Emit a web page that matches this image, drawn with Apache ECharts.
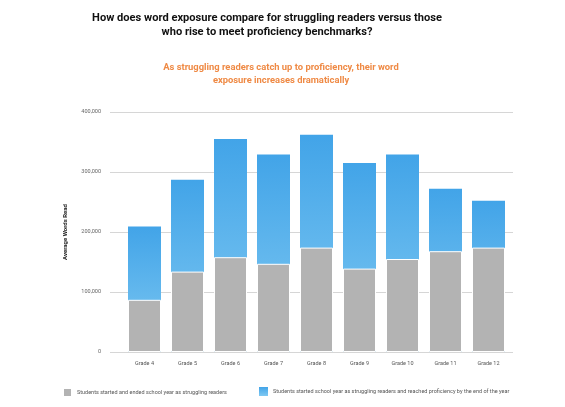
<!DOCTYPE html>
<html><head><meta charset="utf-8">
<script src="https://cdn.jsdelivr.net/npm/echarts@6/dist/echarts.min.js"></script>
<style>html,body{margin:0;padding:0;background:#fff}#c{width:565px;height:407px}</style>
</head><body><div id="c"></div>
<script>
const categories = ['Grade 4','Grade 5','Grade 6','Grade 7','Grade 8','Grade 9','Grade 10','Grade 11','Grade 12'];
const strugglingValues = [87000,134000,158000,147000,174000,139000,155000,168000,174000];
const proficientValues = [209000,287000,355000,329000,362000,315000,329000,272000,252000];
const yTicks = [0,100000,200000,300000,400000];
const seriesNames = ['Students started and ended school year as struggling readers','Students started school year as struggling readers and reached proficiency by the end of the year'];

const chart = echarts.init(document.getElementById('c'));
const fmt = v => v.toLocaleString('en-US');
chart.setOption({
  animation:false,
  title:[
    {text:'How does word exposure compare for struggling readers versus those\nwho rise to meet proficiency benchmarks?',left:262,top:6,textAlign:'center',
     textStyle:{fontFamily:'Roboto',fontWeight:'bold',fontSize:11.1,color:'#111',lineHeight:14}},
    {text:'As struggling readers catch up to proficiency, their word\nexposure increases dramatically',left:276,top:56,textAlign:'center',
     textStyle:{fontFamily:'Roboto',fontWeight:'bold',fontSize:9.4,color:'#ef8a45',lineHeight:13}}
  ],
  legend:[
    {data:[seriesNames[0]],left:62,top:387,padding:0,itemWidth:9,itemHeight:9,icon:'rect',itemGap:6,
     textStyle:{fontFamily:'Roboto',fontSize:5.5,color:'#555'}},
    {data:[seriesNames[1]],left:259,top:387,padding:0,itemWidth:9,itemHeight:9,icon:'rect',itemGap:5,
     textStyle:{fontFamily:'Roboto',fontSize:5.5,color:'#555'}}
  ],
  grid:[
    {left:110,right:52,top:112,bottom:55},
    {left:123,right:55,top:112,bottom:55}
  ],
  xAxis:[
    {type:'category',gridIndex:0,data:categories,show:false},
    {type:'category',gridIndex:1,data:categories,axisLine:{show:false},axisTick:{show:false},
     axisLabel:{fontFamily:'Roboto',fontSize:5.5,color:'#555',margin:9}}
  ],
  yAxis:[
    {type:'value',gridIndex:0,min:yTicks[0],max:yTicks[yTicks.length-1],interval:100000,
     name:'Average Words Read',nameLocation:'middle',nameGap:42,
     nameTextStyle:{fontFamily:'Roboto',fontWeight:'bold',fontSize:6,color:'#222'},
     axisLine:{show:false},axisTick:{show:false},
     axisLabel:{formatter:fmt,fontFamily:'Roboto',fontSize:5.5,color:'#666',margin:9},
     splitLine:{lineStyle:{color:'#d6d6d6',width:1}}},
    {type:'value',gridIndex:1,min:yTicks[0],max:yTicks[yTicks.length-1],interval:100000,show:false,splitLine:{show:false}}
  ],
  series:[
    {name:seriesNames[1],type:'bar',xAxisIndex:1,yAxisIndex:1,data:proficientValues,barWidth:33,
     itemStyle:{color:new echarts.graphic.LinearGradient(0,0,0,1,[{offset:0,color:'#42a4e8'},{offset:1,color:'#80c9f2'}])}},
    {name:seriesNames[0],type:'bar',xAxisIndex:1,yAxisIndex:1,data:strugglingValues,barWidth:33,barGap:'-100%',
     itemStyle:{color:'#b3b3b3',borderColor:'#fff',borderWidth:1}}
  ]
});
</script></body></html>
